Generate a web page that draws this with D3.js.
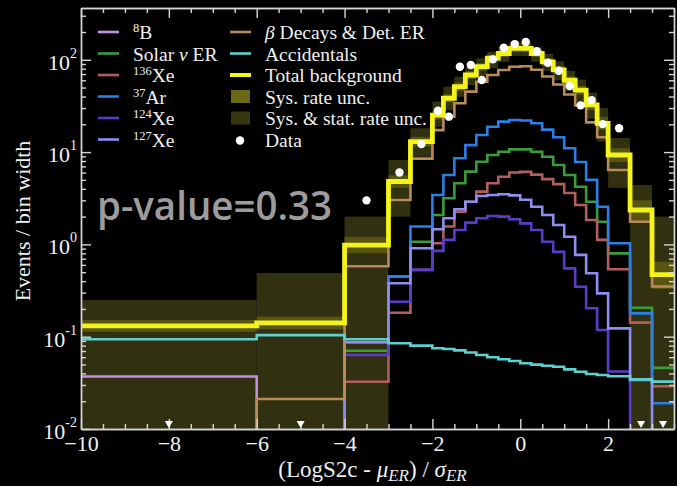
<!DOCTYPE html>
<html>
<head>
<meta charset="utf-8">
<script src="https://cdn.jsdelivr.net/npm/d3@7"></script>
<style>
body { margin: 0; background: #000; }
svg { display: block; }
.axis path, .axis line { stroke: #d6d6d6; stroke-width: 1.4; }
text { font-family: "Liberation Serif", "DejaVu Serif", serif; fill: #f0f0f0; }
</style>
</head>
<body>
<div id="graph"></div>
<script>
// bin edges (LogS2c - mu)/sigma
var edges = [-10, -6, -4, -3, -2.5, -2, -1.75, -1.5, -1.25, -1, -0.75, -0.5, -0.25,
             0, 0.25, 0.5, 0.75, 1, 1.25, 1.5, 1.75, 2, 2.5, 3, 3.5];

// events / bin width per bin (0 = below the axis)
var b8     = [0.037, 0, 0, 0, 0, 0, 0, 0, 0, 0, 0, 0, 0, 0, 0, 0, 0, 0, 0, 0, 0, 0, 0, 0];
var solar  = [0, 0, 0.0705, 0.447, 1.07, 2.08, 3.16, 4.59, 6.14, 7.87, 9.3, 10.1, 10.7, 10.7, 10.1, 8.9, 7.25, 5.65, 4.22, 2.9, 1.76, 0.8, 0.206, 0.046];
var xe136  = [0, 0, 0.0325, 0.182, 0.53, 1.03, 1.56, 2.26, 2.9, 3.73, 4.59, 5.4, 6.0, 6.1, 5.7, 5.1, 4.5, 3.6, 2.67, 1.84, 1.12, 0.537, 0.142, 0.029];
var ar37   = [0, 0, 0.087, 0.447, 1.56, 3.43, 5.65, 8.57, 11.9, 15.3, 18.8, 21.4, 22.3, 22.0, 20.5, 17.5, 14.5, 11.0, 7.8, 5.0, 2.56, 1.03, 0.179, 0.019];
var xe124  = [0, 0, 0.0634, 0.239, 0.53, 0.85, 1.12, 1.43, 1.72, 1.92, 2.03, 2.0, 1.87, 1.69, 1.43, 1.07, 0.83, 0.55, 0.348, 0.203, 0.118, 0.042, 0, 0];
var xe127  = [0, 0, 0.087, 0.38, 0.91, 1.46, 1.92, 2.4, 2.9, 3.34, 3.43, 3.5, 3.4, 3.05, 2.56, 2.08, 1.62, 1.21, 0.77, 0.486, 0.295, 0.123, 0.034, 0];
var betaER = [0, 0.0211, 0.58, 3.03, 8.5, 17.3, 24.2, 33.8, 45.2, 57.9, 68.4, 77.6, 84, 85, 78, 66, 54, 42, 32, 21, 14.5, 6.4, 1.76, 0.35];
var accid  = [0.0937, 0.104, 0.094, 0.0849, 0.080, 0.0749, 0.0735, 0.0711, 0.0673, 0.0634, 0.0598, 0.0569, 0.0546, 0.0515, 0.0498, 0.0485, 0.0473, 0.0443, 0.0417, 0.0395, 0.0384, 0.0373, 0.0345, 0.0326];
var total  = [0.131, 0.141, 0.98, 4.8, 13.0, 25.2, 38.3, 51.2, 68.4, 84.2, 104, 117, 133, 133, 117, 95, 77.6, 60, 47, 32.4, 20.5, 9.3, 2.36, 0.47];

// uncertainty bands
var sysLo  = [0.113, 0.12, 0.8, 4.1, 11.5, 22.5, 34.5, 46, 62, 77, 95, 107, 122, 122, 107, 86, 70, 54, 42, 28.5, 17.5, 7.8, 1.8, 0.33];
var sysHi  = [0.152, 0.165, 1.2, 5.6, 14.6, 28, 42.5, 57, 75.5, 92, 114, 128, 146, 146, 128, 104, 86, 66, 52, 36.5, 24, 11, 3.0, 0.65];
var statLo = [0, 0, 0, 2.0, 8.9, 18.8, 28.6, 39.8, 53.3, 65.6, 81, 95, 110, 110, 95, 76, 60, 46, 35, 23, 13, 4.1, 0, 0];
var statHi = [0.25, 0.49, 2.0, 8.2, 18.1, 35.2, 51.2, 65.6, 84, 104, 122, 138, 155, 155, 138, 116, 96, 76, 61, 44, 30, 14.2, 4.4, 2.0];

// data
var dataX = [-3.5, -2.75, -2.25, -1.875, -1.625, -1.375, -1.125, -0.875, -0.625, -0.375, -0.125,
             0.125, 0.375, 0.625, 0.875, 1.125, 1.375, 1.625, 1.875, 2.25];
var dataY = [3.0, 6.0, 12.2, 28.1, 24.2, 84.1, 87.9, 60.4, 101, 135, 148,
             156, 124, 93, 76, 52, 32.1, 36.6, 20.1, 18.1];
var emptyX = [-8, -5, 2.75, 3.25];

var xMajor = [-10, -8, -6, -4, -2, 0, 2];
var yExp = [-2, -1, 0, 1, 2];

var series = [
  {name: "8B", vals: b8, color: "#c48fe2"},
  {name: "Solar", vals: solar, color: "#3c9c3c"},
  {name: "136Xe", vals: xe136, color: "#b25e5e"},
  {name: "37Ar", vals: ar37, color: "#2a80e6"},
  {name: "124Xe", vals: xe124, color: "#5b3cc9"},
  {name: "127Xe", vals: xe127, color: "#8e8ef2"},
  {name: "beta", vals: betaER, color: "#b88a5c"},
  {name: "acc", vals: accid, color: "#5ed0d0"}
];

var margin = {top: 8, right: 3, bottom: 57, left: 81},
    width = 677 - margin.left - margin.right,
    height = 486 - margin.top - margin.bottom;

var x = d3.scaleLinear().domain([-10, 3.5]).range([0, width]);
var y = d3.scaleLog().domain([0.01, 364]).range([height, 0]);
function yv(v) { return y(Math.max(v, 0.001)); }

var svg = d3.select("#graph").append("svg")
    .attr("width", 677)
    .attr("height", 486)
    .style("background", "#000");

var g = svg.append("g")
    .attr("transform", "translate(" + margin.left + "," + margin.top + ")");

g.append("clipPath").attr("id", "clip")
  .append("rect").attr("width", width).attr("height", height);

var plot = g.append("g").attr("clip-path", "url(#clip)");

var bins = d3.range(edges.length - 1);

// bands
plot.selectAll(".stat").data(bins).enter().append("rect")
    .attr("x", function(i) { return x(edges[i]); })
    .attr("width", function(i) { return x(edges[i + 1]) - x(edges[i]); })
    .attr("y", function(i) { return yv(statHi[i]); })
    .attr("height", function(i) { return yv(statLo[i]) - yv(statHi[i]); })
    .style("fill", "#313010");
plot.selectAll(".sys").data(bins).enter().append("rect")
    .attr("x", function(i) { return x(edges[i]); })
    .attr("width", function(i) { return x(edges[i + 1]) - x(edges[i]); })
    .attr("y", function(i) { return yv(sysHi[i]); })
    .attr("height", function(i) { return yv(sysLo[i]) - yv(sysHi[i]); })
    .style("fill", "#57550f");

var step = d3.line()
    .x(function(d) { return x(d[0]); })
    .y(function(d) { return yv(d[1]); })
    .curve(d3.curveStepAfter);

function pts(vals) {
  var p = vals.map(function(v, i) { return [edges[i], v]; });
  p.push([edges[edges.length - 1], vals[vals.length - 1]]);
  return p;
}

series.forEach(function(s) {
  plot.append("path")
      .attr("d", step(pts(s.vals)))
      .style("fill", "none")
      .style("stroke", s.color)
      .style("stroke-width", 2.6);
});
plot.append("path")
    .attr("d", step(pts(total)))
    .style("fill", "none")
    .style("stroke", "#f4f41c")
    .style("stroke-width", 4.8);

plot.selectAll(".dot").data(dataX).enter().append("circle")
    .attr("cx", function(d) { return x(d); })
    .attr("cy", function(d, i) { return y(dataY[i]); })
    .attr("r", 4.2)
    .style("fill", "#fff");

// axes
var xMinor = d3.range(-10, 3.51, 0.5).filter(function(v) { return xMajor.indexOf(v) < 0; });
var yMinor = [];
for (var e = -2; e <= 2; e++) {
  for (var k = 2; k <= 9; k++) {
    var v = k * Math.pow(10, e);
    if (v <= 364) yMinor.push(v);
  }
}
var yMajor = yExp.map(function(e) { return Math.pow(10, e); });

function ax(gen, vals, size, tr) {
  g.append("g").attr("class", "axis").attr("transform", tr)
    .call(gen.tickValues(vals).tickSize(size).tickSizeOuter(0).tickFormat(""));
}
ax(d3.axisBottom(x), xMinor, -5, "translate(0," + height + ")");
ax(d3.axisTop(x), xMinor, -5, "translate(0,0)");
ax(d3.axisLeft(y), yMinor, -5, "translate(0,0)");
ax(d3.axisRight(y), yMinor, -5, "translate(" + width + ",0)");
ax(d3.axisTop(x), xMajor, -10, "translate(0,0)");
ax(d3.axisLeft(y), yMajor, -10, "translate(0,0)");
ax(d3.axisRight(y), yMajor, -10, "translate(" + width + ",0)");

g.append("g").attr("class", "axis")
    .attr("transform", "translate(0," + height + ")")
    .call(d3.axisBottom(x).tickValues(xMajor).tickSize(-10).tickSizeOuter(0).tickPadding(6))
  .selectAll("text")
    .style("font-family", "Liberation Serif")
    .style("font-size", "22px")
    .style("fill", "#f0f0f0");

// y tick labels 10^n
yExp.forEach(function(e) {
  var t = g.append("text")
      .attr("x", -4)
      .attr("y", y(Math.pow(10, e)) + 10)
      .style("text-anchor", "end")
      .style("font-size", "22px");
  t.append("tspan").text("10");
  t.append("tspan").attr("dy", -12).style("font-size", "14px").text(e);
});

// empty-bin markers
g.selectAll(".tri").data(emptyX).enter().append("path")
    .attr("d", function(d) {
      var cx = x(d), by = height - 1;
      return "M" + (cx - 4) + "," + (by - 7) + "L" + (cx + 4) + "," + (by - 7) + "L" + cx + "," + by + "Z";
    })
    .style("fill", "#fff");

// axis titles
var xl = svg.append("text")
    .attr("x", margin.left + width / 2 - 5)
    .attr("y", 477)
    .style("text-anchor", "middle")
    .style("font-size", "23px");
xl.append("tspan").text("(LogS2c - ");
xl.append("tspan").style("font-style", "italic").text("\u03bc");
xl.append("tspan").attr("dy", 4).style("font-style", "italic").style("font-size", "17px").text("ER");
xl.append("tspan").attr("dy", -4).text(") / ");
xl.append("tspan").style("font-style", "italic").text("\u03c3");
xl.append("tspan").attr("dy", 4).style("font-style", "italic").style("font-size", "17px").text("ER");

svg.append("text")
    .attr("transform", "translate(30,221) rotate(-90)")
    .style("text-anchor", "middle")
    .style("font-size", "22px")
    .text("Events / bin width");

// p-value
svg.append("text")
    .attr("x", 97)
    .attr("y", 220)
    .attr("textLength", 235)
    .attr("lengthAdjust", "spacingAndGlyphs")
    .style("font-family", "'Open Sans', Lato, sans-serif")
    .style("font-weight", "600")
    .style("font-size", "40px")
    .style("fill", "#9c9c9c")
    .text("p-value=0.33");

// legend
var rowY = [32, 53.5, 75, 96.5, 118, 139.5];
var legL = [
  {c: "#c48fe2", parts: [["8", 1], ["B", 0]]},
  {c: "#3c9c3c", parts: [["Solar ", 0], ["\u03bd", 2], [" ER", 0]]},
  {c: "#b25e5e", parts: [["136", 1], ["Xe", 0]]},
  {c: "#2a80e6", parts: [["37", 1], ["Ar", 0]]},
  {c: "#5b3cc9", parts: [["124", 1], ["Xe", 0]]},
  {c: "#8e8ef2", parts: [["127", 1], ["Xe", 0]]}
];
var legR = [
  {c: "#b88a5c", kind: "line", parts: [["\u03b2", 2], [" Decays & Det. ER", 0]]},
  {c: "#5ed0d0", kind: "line", parts: [["Accidentals", 0]]},
  {c: "#f4f41c", kind: "thick", parts: [["Total background", 0]]},
  {c: "#6a6814", kind: "box", parts: [["Sys. rate unc.", 0]]},
  {c: "#37360f", kind: "box", parts: [["Sys. & stat. rate unc.", 0]]},
  {c: "#fff", kind: "dot", parts: [["Data", 0]]}
];

function legText(px, py, parts) {
  var t = svg.append("text").attr("x", px).attr("y", py + 7).style("font-size", "19.5px");
  var up = false;
  parts.forEach(function(p) {
    var s = t.append("tspan").text(p[0]);
    if (p[1] === 1) { s.attr("dy", -7).style("font-size", "12.5px"); up = true; }
    else if (up) { s.attr("dy", 7); up = false; }
    if (p[1] === 2) s.style("font-style", "italic");
  });
}

legL.forEach(function(d, i) {
  svg.append("line").attr("x1", 98).attr("x2", 119).attr("y1", rowY[i]).attr("y2", rowY[i])
      .style("stroke", d.c).style("stroke-width", 2.6);
  legText(133, rowY[i], d.parts);
});
legR.forEach(function(d, i) {
  var yy = rowY[i];
  if (d.kind === "line" || d.kind === "thick") {
    svg.append("line").attr("x1", 230).attr("x2", 251).attr("y1", yy).attr("y2", yy)
        .style("stroke", d.c).style("stroke-width", d.kind === "thick" ? 4 : 2.6);
  } else if (d.kind === "box") {
    svg.append("rect").attr("x", 231).attr("y", yy - 6.5).attr("width", 19).attr("height", 13)
        .style("fill", d.c);
  } else {
    svg.append("circle").attr("cx", 240).attr("cy", yy + 1).attr("r", 4.2).style("fill", d.c);
  }
  legText(265, yy, d.parts);
});
</script>
</body>
</html>
